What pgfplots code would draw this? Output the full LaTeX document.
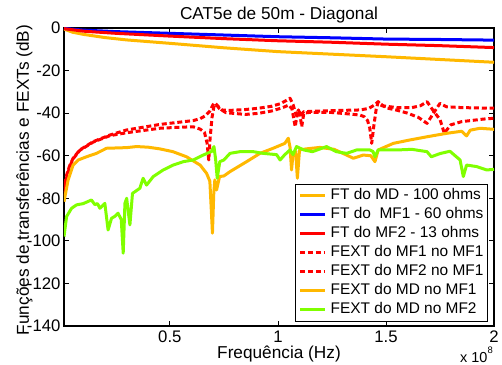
\documentclass[border=0pt]{standalone}
\usepackage{fontspec}
\setmainfont{Liberation Sans}
\usepackage{pgfplots}
\pgfplotsset{compat=1.18}
\definecolor{morange}{rgb}{1,0.72,0}
\definecolor{mgreen}{rgb}{0.5,1,0}
\begin{document}
\begin{tikzpicture}
\begin{axis}[
  width=430bp, height=298bp, scale only axis,
  xmin=0.01, xmax=2, ymin=-140, ymax=0,
  xtick={0.5,1,1.5,2}, xticklabels={0.5,1,1.5,2},
  ytick={-140,-120,-100,-80,-60,-40,-20,0},
  yticklabels={-140,-120,-100,-80,-60,-40,-20,0},
  tick align=inside, major tick length=5bp,
  tick style={black, line width=0.8pt},
  axis line style={line width=1.3pt},
  ticklabel style={font=\fontsize{16.8}{19}\selectfont},
  xticklabel style={yshift=-1bp},
  title={CAT5e de 50m - Diagonal},
  title style={at={(axis description cs:0.5,1.0101)}, anchor=base, inner sep=0pt, font=\fontsize{17.3}{20}\selectfont},
  xlabel={Frequência (Hz)},
  xlabel style={at={(axis description cs:0.5,-0.1074)}, anchor=base, inner sep=0pt, font=\fontsize{17.3}{20}\selectfont},
  ylabel={Funções de transferências e FEXTs (dB)},
  ylabel style={at={(axis description cs:-0.0814,0.49)}, anchor=base, inner sep=0pt, font=\fontsize{17.3}{20}\selectfont},
  legend style={at={(axis description cs:0.986,0.0134)}, anchor=south east,
    draw=black, line width=1.1pt, fill=white,
    font=\fontsize{15.5}{18}\selectfont,
    inner sep=3bp, row sep=2bp, column sep=3bp,
    nodes={inner sep=1bp, text height=11.5bp, text depth=3.5bp}},
  legend cell align=left,
  legend image code/.code={\draw[#1] (0bp,0bp) -- (25bp,0bp);},
  every axis plot/.append style={line width=3bp, line join=round},
]
% FT do MD - 100 ohms
\addplot[morange] coordinates {
(0.01,-0.5) (0.05,-2) (0.1,-3) (0.2,-4.5) (0.3,-5.6) (0.4,-6.4) (0.5,-7.2) (0.75,-9.3) (1,-11.1) (1.25,-12.3) (1.5,-13.5) (1.75,-14.8) (2,-16.1)};
% FT do MF1 - 60 ohms
\addplot[blue] coordinates {
(0.01,-0.2) (0.1,-1) (0.25,-1.7) (0.5,-2.5) (0.75,-3.3) (1,-4.1) (1.25,-4.6) (1.5,-5.2) (1.75,-5.4) (2,-5.7)};
% FT do MF2 - 13 ohms
\addplot[red] coordinates {
(0.01,-0.3) (0.1,-1.5) (0.25,-2.5) (0.5,-3.8) (0.75,-5) (1,-6) (1.25,-6.7) (1.5,-7.6) (1.75,-8.3) (2,-9.2)};
% FEXT do MF1 no MF1
\addplot[red, dash pattern=on 5bp off 2.8bp] coordinates {
(0.01,-77) (0.02,-69.8) (0.035,-65) (0.052,-61.2) (0.083,-57.3) (0.145,-53.4) (0.222,-50.3) (0.30,-47.9) (0.454,-45.3) (0.608,-43.5) (0.64,-42.6) (0.665,-41.2) (0.685,-39) (0.70,-36) (0.708,-35.1) (0.72,-36.5) (0.74,-38.5) (0.78,-38.7) (0.85,-38.3) (0.91,-37.7) (0.97,-36.8) (1.01,-35.6) (1.04,-34) (1.056,-33) (1.07,-36) (1.085,-41) (1.095,-38.5) (1.105,-41) (1.12,-39.3) (1.2,-39) (1.3,-38.7) (1.38,-38.5) (1.42,-37.8) (1.45,-36) (1.464,-34.6) (1.48,-36.5) (1.55,-37.4) (1.62,-37.4) (1.66,-36.5) (1.69,-34.6) (1.72,-39) (1.75,-43) (1.77,-49.4) (1.80,-45.5) (1.85,-44) (1.95,-42.8) (2.0,-42.4)};
% FEXT do MF2 no MF1
\addplot[red, dash pattern=on 5bp off 2.8bp] coordinates {
(0.01,-79) (0.02,-71) (0.035,-65.5) (0.052,-61.5) (0.083,-57.5) (0.145,-53.6) (0.222,-50.6) (0.30,-49.2) (0.454,-47.1) (0.55,-46.6) (0.608,-46.4) (0.64,-47.5) (0.66,-49) (0.672,-54) (0.68,-62) (0.686,-52) (0.695,-42) (0.705,-36.5) (0.715,-36) (0.73,-38) (0.76,-39.8) (0.85,-40.6) (0.91,-40.1) (0.97,-39) (1.02,-37.5) (1.05,-36.2) (1.065,-38) (1.08,-46.4) (1.09,-40) (1.10,-39) (1.11,-46.4) (1.12,-40) (1.15,-39.6) (1.25,-39.7) (1.32,-40.3) (1.38,-40.9) (1.40,-41.7) (1.415,-43.5) (1.425,-47) (1.434,-54.2) (1.445,-45) (1.455,-38) (1.464,-34.8) (1.5,-37.5) (1.55,-38.6) (1.6,-40) (1.65,-42) (1.69,-44.8) (1.72,-40) (1.75,-35.4) (1.78,-37) (1.85,-37.4) (1.95,-37.6) (2.0,-37.7)};
% FEXT do MD no MF1
\addplot[morange] coordinates {
(0.01,-81.6) (0.029,-71.4) (0.052,-64.4) (0.076,-62) (0.114,-60.5) (0.16,-58.9) (0.207,-56.5) (0.30,-56.2) (0.346,-55.7) (0.40,-56) (0.454,-56.8) (0.514,-58.1) (0.577,-60.5) (0.64,-64.4) (0.67,-68.3) (0.685,-72) (0.697,-96.4) (0.703,-78) (0.708,-71.4) (0.716,-76.1) (0.73,-69.8) (0.75,-69.5) (0.778,-67.5) (0.855,-62.8) (0.917,-58.9) (0.978,-56.5) (1.032,-54.2) (1.048,-51.8) (1.056,-56) (1.063,-66.7) (1.07,-59) (1.082,-58) (1.09,-70.6) (1.10,-57.3) (1.13,-56.8) (1.194,-56.1) (1.26,-57) (1.318,-59.7) (1.349,-61.2) (1.395,-59.7) (1.43,-60) (1.449,-62.8) (1.464,-57.3) (1.534,-54.2) (1.611,-52.6) (1.69,-51.1) (1.78,-49.5) (1.85,-48.5) (1.873,-50.7) (1.89,-48) (1.935,-47.1) (2.0,-47.6)};
% FEXT do MD no MF2
\addplot[mgreen] coordinates {
(0.01,-98) (0.022,-88.6) (0.045,-84.7) (0.068,-83.1) (0.099,-82.5) (0.137,-80.8) (0.153,-83) (0.165,-82.5) (0.176,-84.7) (0.199,-82.4) (0.214,-94.9) (0.23,-89.4) (0.245,-88.5) (0.26,-87) (0.275,-90) (0.284,-105.8) (0.292,-82.4) (0.30,-80) (0.315,-92.5) (0.327,-77.7) (0.361,-75.3) (0.376,-70.6) (0.392,-73.8) (0.423,-69.8) (0.469,-66.7) (0.515,-64.4) (0.562,-62.8) (0.608,-62) (0.654,-59.7) (0.693,-58) (0.704,-55.7) (0.712,-62) (0.719,-70.6) (0.731,-62.8) (0.75,-62) (0.778,-58.9) (0.824,-58.1) (0.886,-58.1) (0.932,-58.9) (0.994,-59.5) (1.01,-62) (1.032,-59.5) (1.056,-57.3) (1.07,-59.5) (1.086,-55.7) (1.12,-57.3) (1.16,-58.1) (1.225,-55.7) (1.27,-58.1) (1.318,-58.9) (1.364,-57.3) (1.426,-57.3) (1.44,-58) (1.449,-60.5) (1.464,-57.3) (1.55,-57.3) (1.62,-57) (1.69,-58.1) (1.71,-60.5) (1.75,-59) (1.796,-57.9) (1.843,-62) (1.858,-69.8) (1.873,-64.4) (1.92,-65.1) (1.966,-66.7) (2.0,-66.4)};
\legend{FT do MD - 100 ohms, FT do\ \ MF1 - 60 ohms, FT do MF2 - 13 ohms, FEXT do MF1 no MF1, FEXT do MF2 no MF1, FEXT do MD no MF1, FEXT do MD no MF2}
\coordinate (bl) at (rel axis cs:0,0);
\end{axis}
\path (bl) ++(429bp,-36.5bp) node[anchor=base east, inner sep=0pt, font=\fontsize{14.5}{16}\selectfont] {x 10\raisebox{0.6em}{\fontsize{9.5}{10}\selectfont 8}};
\pgfresetboundingbox
\path[use as bounding box] (bl) ++(-64bp,-39bp) rectangle ++(502bp,365bp);
\end{tikzpicture}
\end{document}
